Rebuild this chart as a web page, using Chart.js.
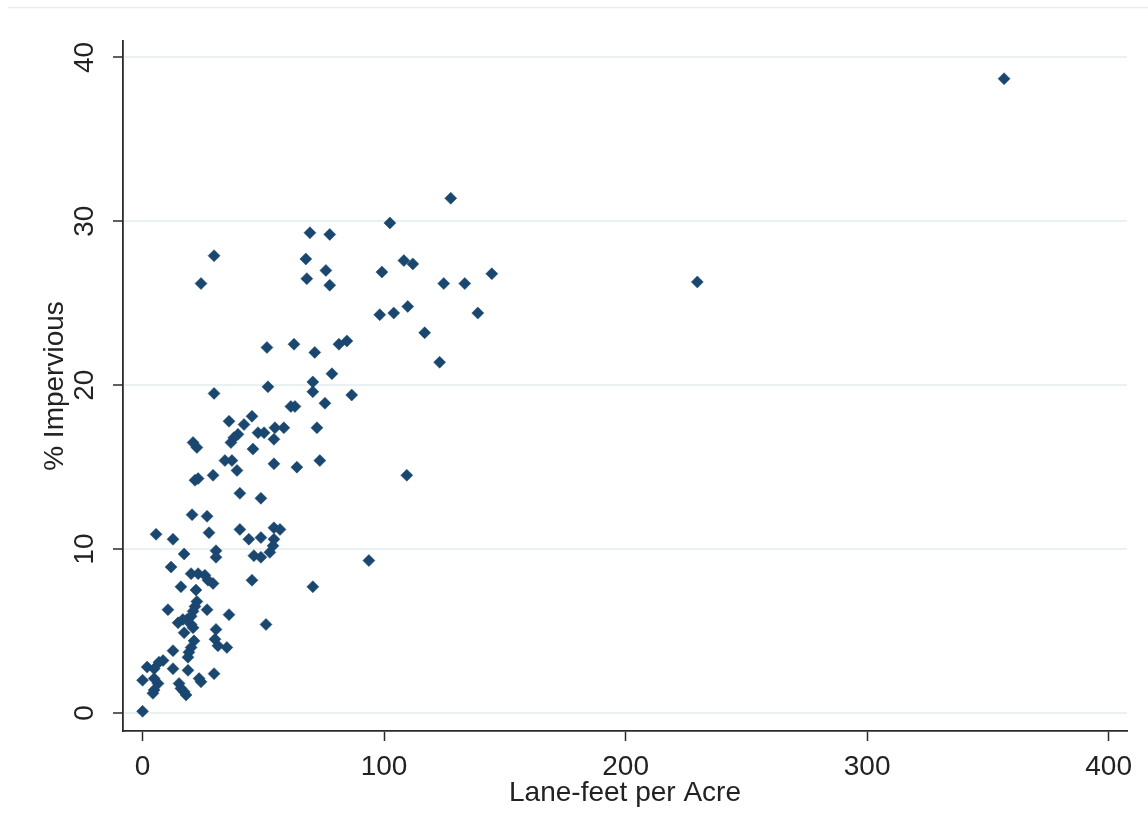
<!DOCTYPE html>
<html>
<head>
<meta charset="utf-8">
<script src="https://cdn.jsdelivr.net/npm/chart.js@4/dist/chart.umd.min.js"></script>
<style>
  html, body { margin: 0; padding: 0; background: #ffffff; }
  #wrap { width: 1148px; height: 839px; }
</style>
</head>
<body>
<div id="wrap"><canvas id="c" width="1148" height="839"></canvas></div>
<script>
// ---- data ----
const laneFeetPerAcre = [356.7, 229.7, 127.6, 102.4, 108.2, 111.9, 99.1, 124.7, 133.4, 144.6,
  98.2, 104.0, 109.8, 138.8, 116.8, 123.0, 109.4, 93.7, 70.5, 69.3,
  77.5, 29.6, 67.6, 75.9, 24.2, 68.0, 77.5, 51.5, 62.7, 71.3,
  81.3, 84.6, 78.4, 70.5, 51.9, 29.6, 70.5, 86.6, 75.5, 61.4,
  63.1, 35.8, 45.3, 42.0, 54.8, 58.5, 72.2, 47.8, 50.3, 39.5,
  37.8, 36.6, 20.9, 22.5, 54.4, 45.7, 73.4, 34.1, 37.0, 39.1,
  54.4, 63.9, 21.7, 23.0, 29.2, 40.3, 49.0, 20.5, 26.7, 27.5,
  5.6, 12.6, 40.3, 44.0, 49.0, 54.4, 56.9, 54.4, 54.0, 52.7,
  30.4, 30.4, 17.2, 46.1, 49.0, 11.8, 20.1, 23.0, 25.8, 27.1,
  29.2, 15.9, 22.1, 45.3, 10.5, 22.5, 21.7, 20.9, 20.1, 18.4,
  26.7, 35.8, 14.7, 16.7, 20.1, 20.9, 17.2, 51.1, 30.4, 30.0,
  31.2, 34.9, 21.3, 20.1, 19.2, 18.8, 12.6, 8.5, 6.8, 4.8,
  1.9, 12.6, 18.8, 0, 4.8, 6.4, 4.8, 4.3, 15.1, 15.9,
  17.2, 18.0, 23.4, 24.2, 29.6, 0];
const pctImpervious = [38.7, 26.3, 31.4, 29.9, 27.6, 27.4, 26.9, 26.2, 26.2, 26.8,
  24.3, 24.4, 24.8, 24.4, 23.2, 21.4, 14.5, 9.3, 7.7, 29.3,
  29.2, 27.9, 27.7, 27.0, 26.2, 26.5, 26.1, 22.3, 22.5, 22.0,
  22.5, 22.7, 20.7, 20.2, 19.9, 19.5, 19.6, 19.4, 18.9, 18.7,
  18.7, 17.8, 18.1, 17.6, 17.4, 17.4, 17.4, 17.1, 17.1, 17.0,
  16.8, 16.5, 16.5, 16.2, 16.7, 16.1, 15.4, 15.4, 15.4, 14.8,
  15.2, 15.0, 14.2, 14.3, 14.5, 13.4, 13.1, 12.1, 12.0, 11.0,
  10.9, 10.6, 11.2, 10.6, 10.7, 11.3, 11.2, 10.6, 10.2, 9.8,
  9.9, 9.5, 9.7, 9.6, 9.5, 8.9, 8.5, 8.5, 8.4, 8.1,
  7.9, 7.7, 7.5, 8.1, 6.3, 6.8, 6.5, 6.2, 5.9, 5.7,
  6.3, 6.0, 5.5, 5.7, 5.4, 5.2, 4.9, 5.4, 5.1, 4.5,
  4.1, 4.0, 4.4, 4.0, 3.7, 3.4, 3.8, 3.2, 3.1, 2.7,
  2.8, 2.7, 2.6, 2.0, 2.1, 1.8, 1.4, 1.2, 1.8, 1.5,
  1.3, 1.1, 2.1, 1.9, 2.4, 0.1];
const xTickValues = [0, 100, 200, 300, 400];
const xTickLabels = ['0', '100', '200', '300', '400'];
const yTickValues = [0, 10, 20, 30, 40];
const yTickLabels = ['0', '10', '20', '30', '40'];
const xTitle = 'Lane-feet per Acre';
const yTitle = '% Impervious';

// ---- chart ----
const points = laneFeetPerAcre.map((x, i) => ({ x: x, y: pctImpervious[i] }));
const FONT = "'Liberation Sans', Arial, sans-serif";
const TEXT = '#222222';
const GRID = '#e9f1f3';
const AXIS = '#2a2a2a';

const topRule = {
  id: 'topRule',
  beforeDraw(chart) {
    const ctx = chart.ctx;
    ctx.save();
    ctx.strokeStyle = '#e6eef0';
    ctx.lineWidth = 1.5;
    ctx.beginPath();
    ctx.moveTo(8, 7.5);
    ctx.lineTo(chart.width, 7.5);
    ctx.stroke();
    ctx.restore();
  }
};

new Chart(document.getElementById('c'), {
  type: 'scatter',
  data: {
    datasets: [{
      data: points,
      pointStyle: 'rectRot',
      pointRadius: 6,
      pointHoverRadius: 6,
      backgroundColor: '#1a476f',
      borderColor: '#1a476f',
      borderWidth: 0.5
    }]
  },
  options: {
    responsive: false,
    devicePixelRatio: 1,
    animation: false,
    layout: { padding: { top: 41, right: 21, bottom: 0, left: 0 } },
    plugins: { legend: { display: false }, tooltip: { enabled: false } },
    scales: {
      x: {
        type: 'linear',
        min: -8.1,
        max: 407.6,
        afterBuildTicks: s => { s.ticks = xTickValues.map(v => ({ value: v })); },
        afterFit: s => { s.height = 108; },
        ticks: {
          autoSkip: false,
          maxRotation: 0,
          padding: 9,
          color: TEXT,
          font: { family: FONT, size: 28 },
          callback: v => xTickLabels[xTickValues.indexOf(v)]
        },
        grid: { drawOnChartArea: false, drawTicks: true, tickLength: 10, tickColor: AXIS, tickWidth: 1.5 },
        border: { display: true, color: AXIS, width: 1.8 },
        title: {
          display: true, text: xTitle, color: TEXT,
          font: { family: FONT, size: 28 },
          padding: { top: 0, bottom: 29 }
        }
      },
      y: {
        type: 'linear',
        min: -1.1,
        max: 41,
        afterBuildTicks: s => { s.ticks = yTickValues.map(v => ({ value: v })); },
        afterFit: s => { s.width = 123; },
        ticks: {
          autoSkip: false,
          minRotation: 90,
          maxRotation: 90,
          crossAlign: 'center',
          padding: 12,
          color: TEXT,
          font: { family: FONT, size: 28 },
          callback: v => yTickLabels[yTickValues.indexOf(v)]
        },
        grid: { color: GRID, lineWidth: 2, drawTicks: true, tickLength: 10, tickColor: AXIS, tickWidth: 1.5 },
        border: { display: true, color: AXIS, width: 1.8 },
        title: {
          display: true, text: yTitle, color: TEXT,
          font: { family: FONT, size: 28 },
          padding: { top: 38, bottom: 0 }
        }
      }
    }
  },
  plugins: [topRule]
});
</script>
</body>
</html>
